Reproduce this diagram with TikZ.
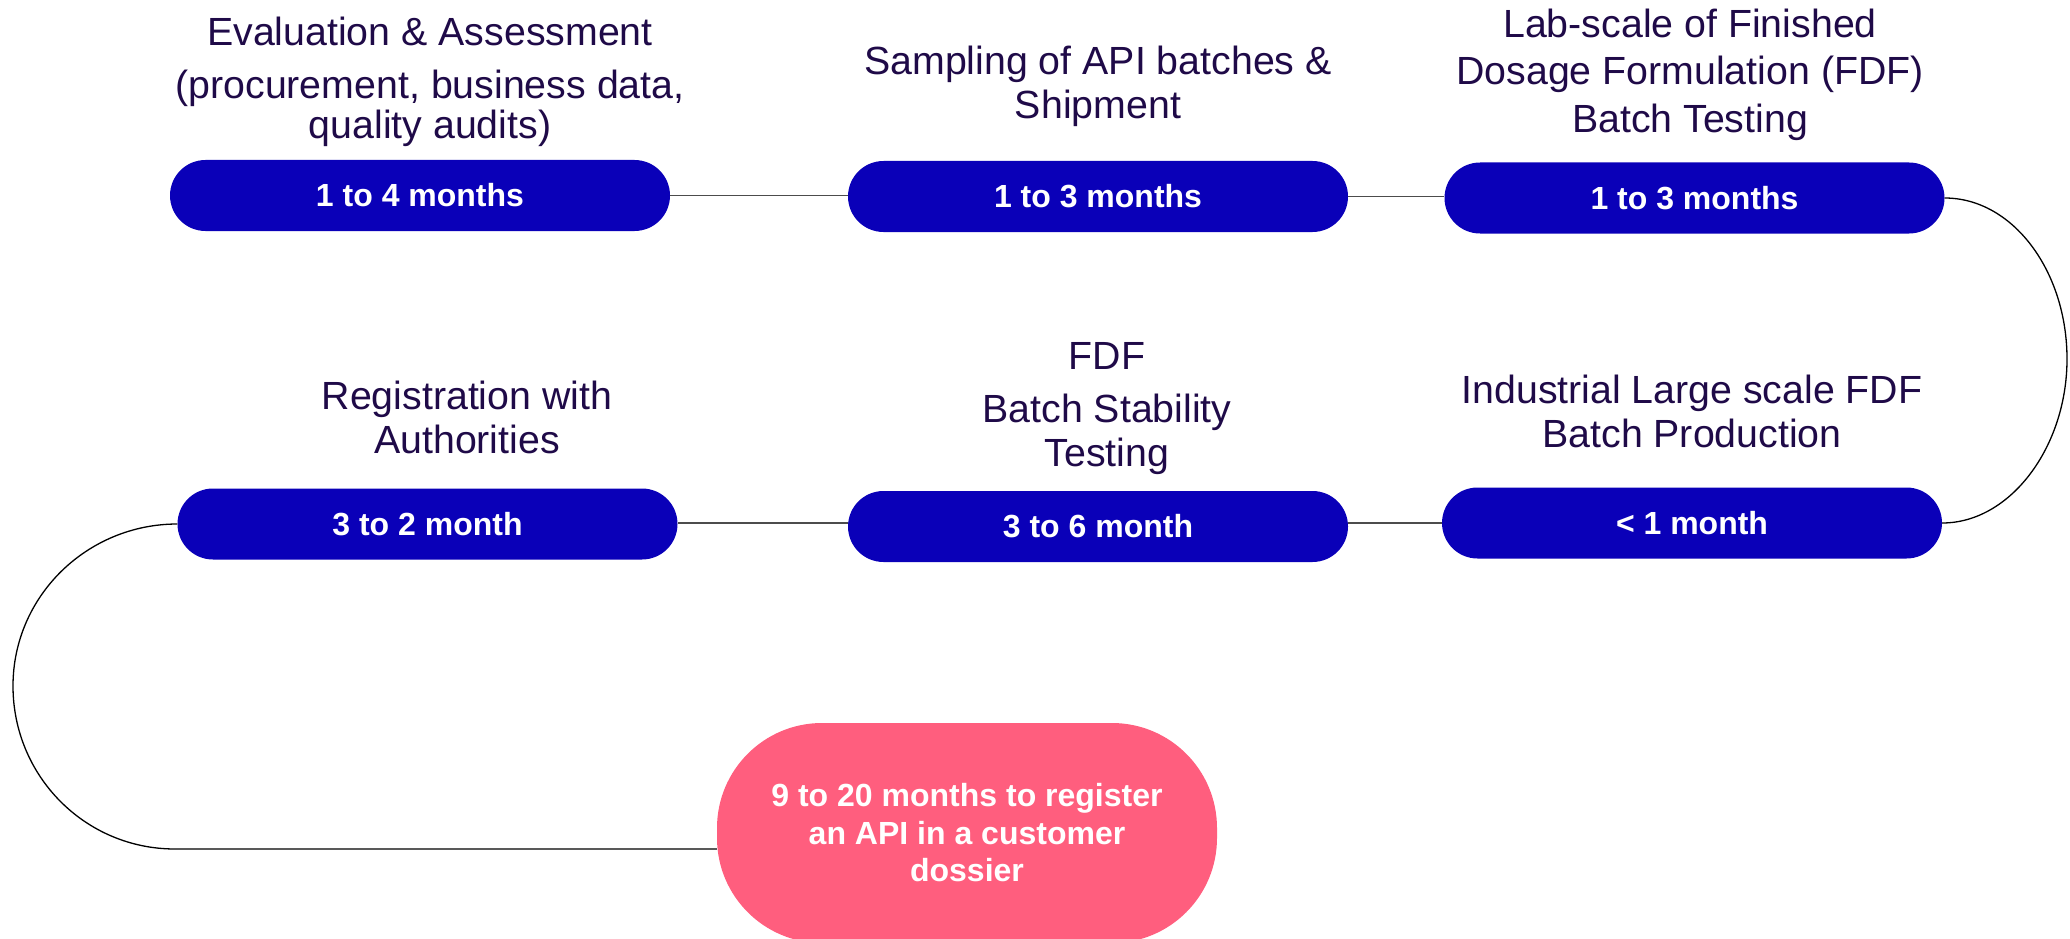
\documentclass[tikz,border=0pt]{standalone}
\usepackage{fontspec}
\setmainfont{Liberation Sans}
\definecolor{pillblue}{RGB}{10,0,184}
\definecolor{pinkc}{RGB}{255,94,126}
\definecolor{titlec}{RGB}{31,10,72}
\tikzset{
  pill/.style={draw=none, fill=pillblue, rounded corners=35.5pt, minimum width=500pt, minimum height=71pt, text=white, font=\fontsize{32}{38}\selectfont\bfseries, inner sep=0pt},
  titletext/.style={text=titlec, align=center, font=\fontsize{39.3}{44}\selectfont, inner sep=0pt},
  goal/.style={draw=none, fill=pinkc, rounded corners=105pt, minimum width=500pt, minimum height=220pt, text=white, align=center, font=\fontsize{32}{37.5}\selectfont\bfseries, inner sep=0pt},
  link/.style={draw=black!70, line width=1.3pt},
  loopline/.style={draw=black, line width=1.3pt}
}
\begin{document}
\begin{tikzpicture}[x=1pt,y=-1pt]
\useasboundingbox (0,0) rectangle (2070,939);
\clip (0,0) rectangle (2070,939);
% pills
\node[pill] (p1) at (420,195.5) {1 to 4 months};
\node[pill] (p2) at (1098,196.5) {1 to 3 months};
\node[pill] (p3) at (1694.5,198) {1 to 3 months};
\node[pill] (p4) at (427.5,524) {3 to 2 month};
\node[pill] (p5) at (1098,526.5) {3 to 6 month};
\node[pill] (p6) at (1692,523) {< 1 month};
\node[goal] (goal) at (967,833) {9 to 20 months to register\\an API in a customer\\dossier};
% titles
\node[titletext, font=\fontsize{39.3}{40}\selectfont] (t1) at (430,81.5) {Evaluation \& Assessment\\[13pt](procurement, business data,\\quality audits)};
\node[titletext] (t2) at (1098,86.6) {Sampling of API batches \&\\Shipment};
\node[titletext, font=\fontsize{39.3}{47.5}\selectfont] (t3) at (1690,74.5) {Lab-scale of Finished\\Dosage Formulation (FDF)\\Batch Testing};
\node[titletext] (t4) at (467,417) {Registration with\\Authorities};
\node[titletext] (t5) at (1107,409) {FDF\\[9pt]Batch Stability\\Testing};
\node[titletext] (t6) at (1692,411) {Industrial Large scale FDF\\Batch Production};
% connectors
\draw[link] (p1.east) -- (p1.east -| p2.west);
\draw[link] (p2.east) -- (p2.east -| p3.west);
\draw[link] (p6.west) -- (p6.west -| p5.east);
\draw[link] (p6.west -| p5.west) -- (p6.west -| p4.east);
\coordinate (rc) at (2067,359);
\draw[loopline] (p3.east) .. controls +(68,0) and +(0,-88) .. (rc) .. controls +(0,88) and +(68,0) .. (p6.east);
\coordinate (lc) at (13,686);
\coordinate (lb) at (175,849);
\draw[loopline] (p4.west) .. controls +(-90,0) and +(0,-90) .. (lc) .. controls +(0,90) and +(-90,0) .. (lb) -- (lb -| goal.west);
\end{tikzpicture}
\end{document}
